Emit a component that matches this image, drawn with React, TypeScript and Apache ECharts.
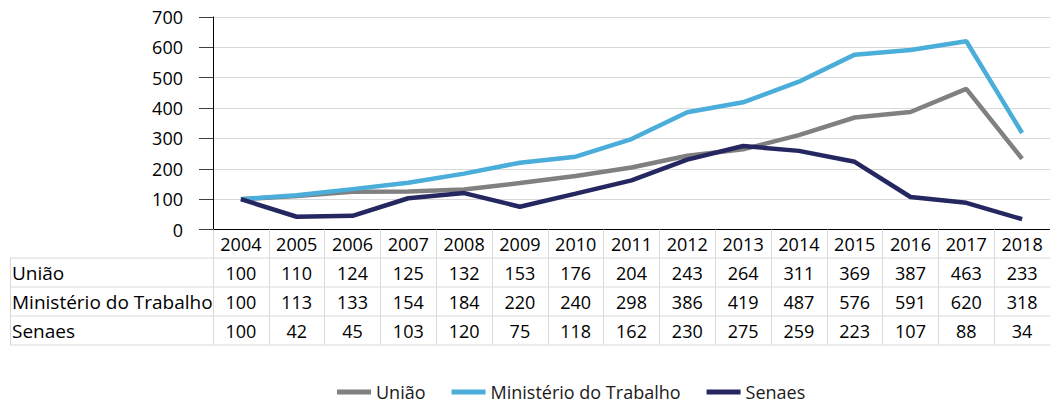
import React, { useEffect, useRef } from "react";
import * as echarts from "echarts";

const years = ["2004", "2005", "2006", "2007", "2008", "2009", "2010", "2011", "2012", "2013", "2014", "2015", "2016", "2017", "2018"];
const uniao = [100, 110, 124, 125, 132, 153, 176, 204, 243, 264, 311, 369, 387, 463, 233];
const ministerio = [100, 113, 133, 154, 184, 220, 240, 298, 386, 419, 487, 576, 591, 620, 318];
const senaes = [100, 42, 45, 103, 120, 75, 118, 162, 230, 275, 259, 223, 107, 88, 34];
const seriesNames = ["União", "Ministério do Trabalho", "Senaes"];
const seriesColors = ["#808080", "#4badd9", "#252761"];
const yTicks = { min: 0, max: 700, interval: 100 };

const FONT = "Open Sans";
const GRID = { left: 213, top: 17, width: 837, height: 212.5 };
const ROW_LINES = [258, 287, 316, 345];
const TABLE_LEFT = 10;
const LINE_COLOR = "#d9d9d9";

export default function App() {
  const ref = useRef<HTMLDivElement>(null);
  useEffect(() => {
    if (!ref.current) return;
    const chart = echarts.init(ref.current, undefined, { renderer: "svg" });
    const seriesData = [uniao, ministerio, senaes];
    chart.setOption({
      animation: false,
      textStyle: { fontFamily: FONT },
      grid: { ...GRID, containLabel: false },
      legend: {
        left: 337,
        top: 382,
        icon: "rect",
        itemWidth: 34,
        itemHeight: 5,
        itemGap: 26,
        padding: 0,
        textStyle: { fontSize: 18, lineHeight: 20, color: "#1a1a1a", fontFamily: FONT },
        data: seriesNames,
      },
      xAxis: {
        type: "category",
        data: years,
        boundaryGap: true,
        axisLine: { show: true, lineStyle: { color: "#000", width: 1 } },
        axisTick: { show: true, interval: 0, length: 345 - 229.5, lineStyle: { color: LINE_COLOR } },
        axisLabel: { show: true, interval: 0, fontSize: 18, color: "#000", margin: 5 },
        splitLine: { show: false },
      },
      yAxis: {
        type: "value",
        ...yTicks,
        axisLine: { show: true, lineStyle: { color: "#000", width: 1 } },
        axisTick: { show: true, length: 14, lineStyle: { color: "#404040" } },
        axisLabel: { fontSize: 18, color: "#000", margin: 30 },
        splitLine: { show: true, lineStyle: { color: LINE_COLOR } },
      },
      series: seriesNames.map((n, i) => ({
        name: n,
        type: "line",
        data: seriesData[i],
        showSymbol: false,
        symbol: "none",
        lineStyle: { width: 4.5, color: seriesColors[i] },
        itemStyle: { color: seriesColors[i] },
        z: 2 + i,
      })),
    });

    const graphics: any[] = [];
    ROW_LINES.forEach((y) => {
      graphics.push({
        type: "line",
        shape: { x1: TABLE_LEFT, y1: y, x2: 1050, y2: y },
        style: { stroke: LINE_COLOR, lineWidth: 1 },
      });
    });
    graphics.push({
      type: "line",
      shape: { x1: TABLE_LEFT + 0.5, y1: ROW_LINES[0], x2: TABLE_LEFT + 0.5, y2: ROW_LINES[ROW_LINES.length - 1] },
      style: { stroke: LINE_COLOR, lineWidth: 1 },
    });
    seriesNames.forEach((n, r) => {
      const yc = (ROW_LINES[r] + ROW_LINES[r + 1]) / 2;
      graphics.push({
        type: "text",
        x: 12,
        y: yc,
        style: { text: n, fontSize: 19, fontFamily: FONT, fill: "#000", align: "left", verticalAlign: "middle" },
      });
      seriesData[r].forEach((v, c) => {
        const px = chart.convertToPixel({ xAxisIndex: 0 }, c) as number;
        graphics.push({
          type: "text",
          x: px,
          y: yc,
          style: { text: String(v), fontSize: 18, fontFamily: FONT, fill: "#000", align: "center", verticalAlign: "middle" },
        });
      });
    });
    chart.setOption({ graphic: graphics });

    return () => chart.dispose();
  }, []);
  return <div ref={ref} style={{ position: "absolute", left: 0, top: 0, width: 1050, height: 403 }} />;
}
